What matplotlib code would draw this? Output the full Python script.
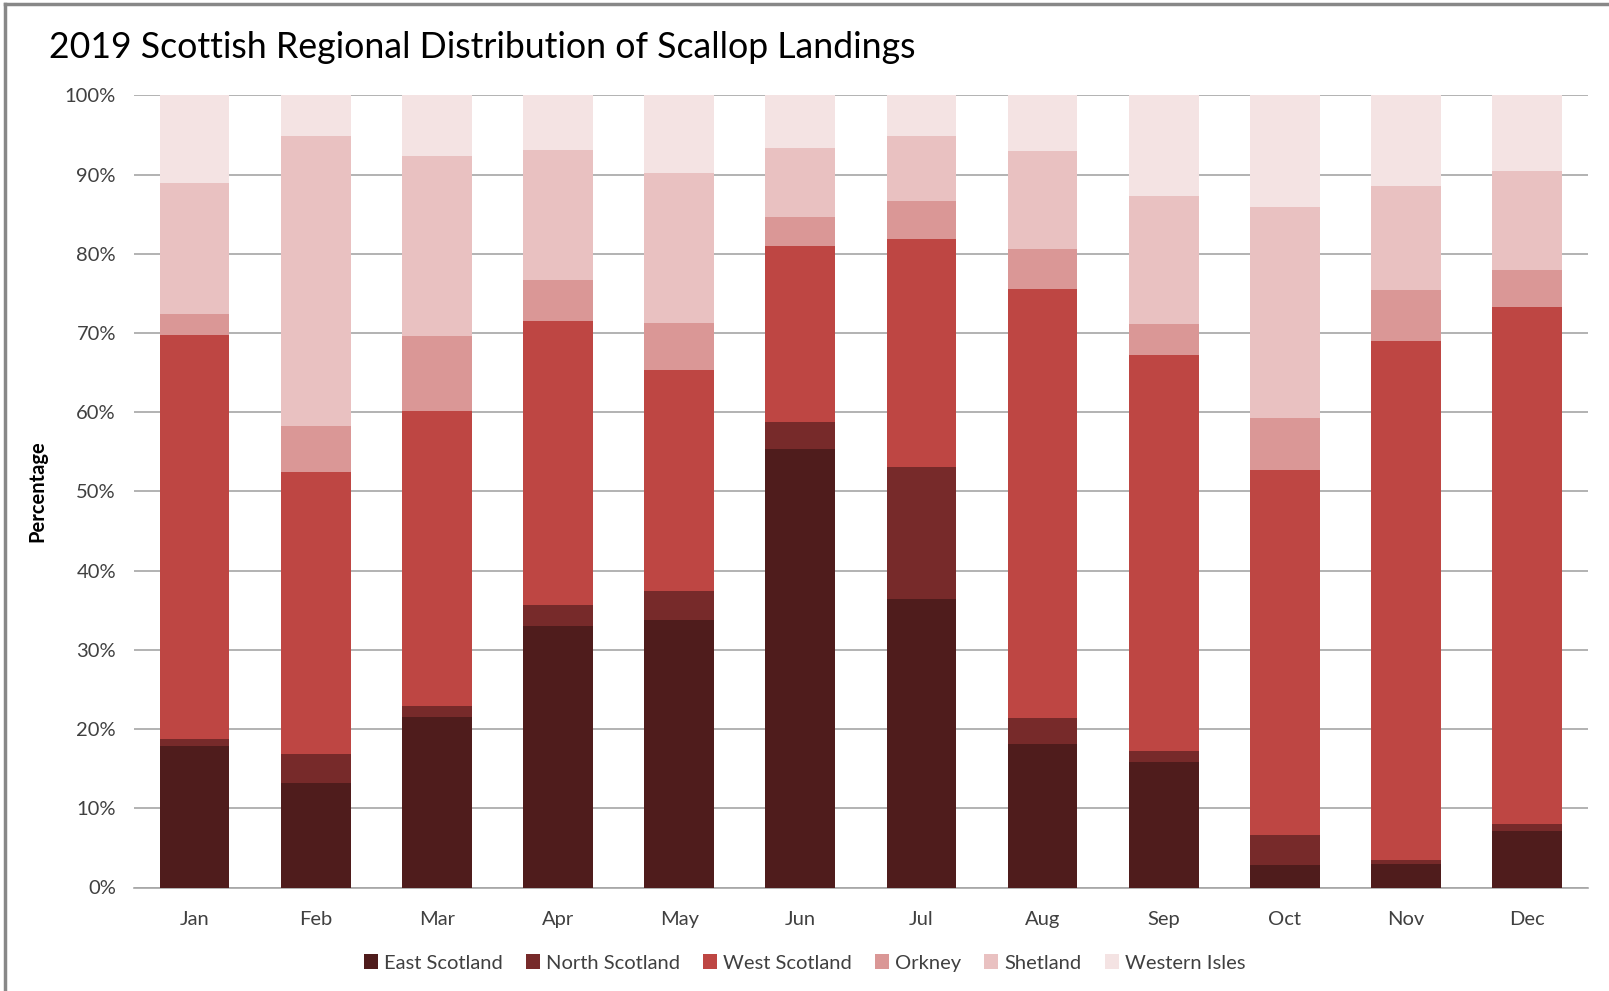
import matplotlib
matplotlib.use("Agg")
import matplotlib.pyplot as plt
from matplotlib.lines import Line2D
from matplotlib.patches import Patch
import numpy as np

months = ["Jan", "Feb", "Mar", "Apr", "May", "Jun", "Jul", "Aug", "Sep", "Oct", "Nov", "Dec"]
east_scotland = [17.9, 13.2, 21.5, 33.0, 33.8, 55.4, 36.4, 18.1, 15.8, 2.8, 3.0, 7.1]
north_scotland = [0.9, 3.6, 1.4, 2.6, 3.6, 3.4, 16.7, 3.3, 1.4, 3.8, 0.5, 0.9]
west_scotland = [50.9, 35.7, 37.3, 35.9, 27.9, 22.2, 28.8, 54.1, 50.0, 46.1, 65.5, 65.3]
orkney = [2.7, 5.8, 9.4, 5.2, 5.9, 3.7, 4.8, 5.1, 3.9, 6.6, 6.4, 4.7]
shetland = [16.5, 36.6, 22.8, 16.4, 19.0, 8.6, 8.1, 12.4, 16.2, 26.6, 13.1, 12.4]
western_isles = [11.1, 5.1, 7.6, 6.9, 9.8, 6.7, 5.2, 7.0, 12.7, 14.1, 11.5, 9.6]

series_names = ["East Scotland", "North Scotland", "West Scotland", "Orkney", "Shetland", "Western Isles"]
series = [east_scotland, north_scotland, west_scotland, orkney, shetland, western_isles]
colors = ["#4f1c1c", "#772a2a", "#be4643", "#da9796", "#e9c1c1", "#f4e3e3"]
yticks = [0, 10, 20, 30, 40, 50, 60, 70, 80, 90, 100]
ytick_labels = [f"{v}%" for v in yticks]

plt.rcParams['font.family'] = ['Lato', 'DejaVu Sans']

W, H = 1609, 991
fig = plt.figure(figsize=(W / 100, H / 100), dpi=100)
ax = fig.add_axes([134 / W, 1 - 887.5 / H, (1587.7 - 134) / W, (887.5 - 95.3) / H])

x = np.arange(len(months))
bottom = np.zeros(len(months))
handles = []
for name, vals, c in zip(series_names, series, colors):
    ax.bar(x, vals, bottom=bottom, width=0.575, color=c, edgecolor='none', zorder=3, label=name)
    bottom += np.array(vals)
    handles.append(Patch(facecolor=c, edgecolor='none', label=name))

ax.set_xlim(-0.5, 11.5)
ax.set_ylim(0, 100)
ax.set_yticks(yticks)
ax.set_yticklabels(ytick_labels, fontsize=14.5, color="#404040")
ax.set_xticks(x)
ax.set_xticklabels(months, fontsize=14.5, color="#404040")
ax.tick_params(axis='both', length=0)
ax.tick_params(axis='x', pad=17)
ax.tick_params(axis='y', pad=13)
ax.grid(axis='y', color="#a6a6a6", linewidth=1.2, zorder=0)
for s in ["top", "right", "left"]:
    ax.spines[s].set_visible(False)
ax.spines["bottom"].set_color("#a6a6a6")
ax.spines["bottom"].set_linewidth(1.2)

ax.set_ylabel("Percentage", fontsize=14.5, fontweight='bold', color="#000000")
ax.yaxis.set_label_coords((47 - 134) / 1453.7, 0.5)

fig.text(49 / W, 1 - 48 / H, "2019 Scottish Regional Distribution of Scallop Landings",
         fontsize=25.7, ha='left', va='center', color="#000000")

fig.legend(handles=handles, loc='center', bbox_to_anchor=(0.5, 1 - 963 / H), ncol=6,
           frameon=False, fontsize=14.5, handlelength=0.7, handleheight=0.7,
           handletextpad=0.3, columnspacing=1.15, labelcolor="#404040")

# outer frame (top and left edges visible)
fig.add_artist(Line2D([5 / W, 1.0], [1 - 4 / H, 1 - 4 / H], color="#888888", linewidth=2.5, transform=fig.transFigure))
fig.add_artist(Line2D([5 / W, 5 / W], [0.0, 1 - 4 / H], color="#888888", linewidth=2.5, transform=fig.transFigure))

fig.savefig("out.png", dpi=100, facecolor="white")
